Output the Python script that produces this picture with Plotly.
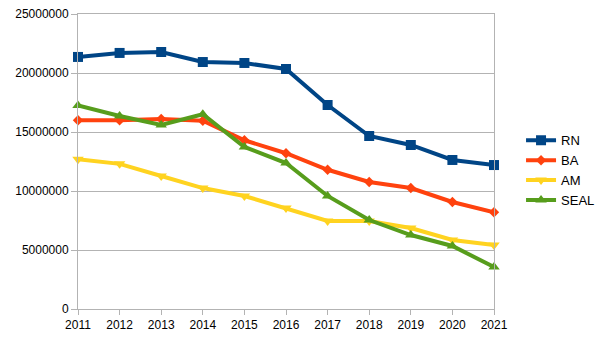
import plotly.graph_objects as go

years = [2011, 2012, 2013, 2014, 2015, 2016, 2017, 2018, 2019, 2020, 2021]
rn = [21360000, 21700000, 21780000, 20930000, 20850000, 20340000, 17290000, 14660000, 13900000, 12630000, 12200000]
ba = [16000000, 16000000, 16100000, 15950000, 14300000, 13200000, 11800000, 10760000, 10250000, 9070000, 8200000]
am = [12700000, 12300000, 11270000, 10250000, 9580000, 8560000, 7460000, 7460000, 6860000, 5850000, 5420000]
seal = [17250000, 16360000, 15600000, 16500000, 13730000, 12370000, 9580000, 7540000, 6270000, 5340000, 3560000]

series = [
    ("RN", rn, "#004586", "square", 10),
    ("BA", ba, "#ff420e", "diamond", 8),
    ("AM", am, "#ffd320", "triangle-down", 10),
    ("SEAL", seal, "#579d1c", "triangle-up", 10),
]

fig = go.Figure()
for name, vals, color, sym, size in series:
    fig.add_trace(go.Scatter(
        x=years, y=vals, name=name, mode="lines+markers",
        line=dict(color=color, width=4),
        marker=dict(symbol=sym, size=size, color=color),
        cliponaxis=False,
    ))

fig.update_layout(
    width=605, height=340,
    margin=dict(l=78, r=111, t=14, b=31, autoexpand=False),
    paper_bgcolor="white", plot_bgcolor="white",
    font=dict(family="Liberation Sans, Arial, sans-serif", size=12, color="#000000"),
    legend=dict(x=1.065, y=0.47, xanchor="left", yanchor="middle",
                font=dict(size=13), itemwidth=30, tracegroupgap=0),
    showlegend=True,
)
fig.update_xaxes(
    type="linear", range=[2011, 2021], tickmode="array", tickvals=years,
    ticktext=[str(y) for y in years], automargin=False,
    showgrid=False, showline=True, linecolor="#b3b3b3", linewidth=1, mirror=True,
    ticks="outside", ticklen=5, tickcolor="#b3b3b3", zeroline=False,
)
fig.update_yaxes(
    range=[0, 25000000], dtick=5000000, tickformat="d", automargin=False,
    showgrid=True, gridcolor="#b3b3b3", gridwidth=1,
    showline=True, linecolor="#b3b3b3", linewidth=1, mirror=True,
    ticks="outside", ticklen=6, tickcolor="#b3b3b3", zeroline=False,
)

fig.write_html("out.html")
